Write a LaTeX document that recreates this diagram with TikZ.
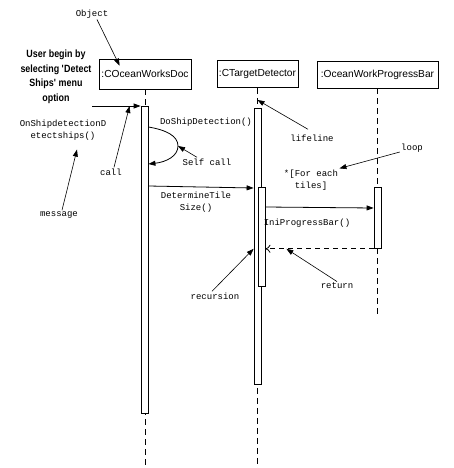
\documentclass[tikz,border=0pt]{standalone}
\usepackage{fontspec}
\setsansfont{Liberation Sans}
\setmonofont{Liberation Mono}
\newfontfamily\usrfont{Liberation Sans}[FakeStretch=0.85]
\usetikzlibrary{arrows.meta,positioning}

\begin{document}
\begin{tikzpicture}[x=1pt,y=-1pt,line width=0.8pt,
		objbox/.style={draw,minimum height=27pt,inner sep=2pt,font=\sffamily\fontsize{10.2}{12}\selectfont},
		actbar/.style={draw,fill=white,minimum width=7pt,inner sep=0pt,anchor=north},
		lbl/.style={font=\ttfamily\fontsize{9}{12}\selectfont,align=center,inner sep=1pt},
		msg/.style={-{Triangle[length=7pt,width=5pt]}},
		ptr/.style={-{Triangle[length=7pt,width=5pt]},line width=0.6pt},
		ret/.style={dash pattern=on 5pt off 4pt,-{To[length=5pt,width=8pt]}},
		lifeline/.style={dash pattern=on 6pt off 4pt}]
	\useasboundingbox (0,0) rectangle (453,468);

	% objects and their lifelines
	\node[objbox,minimum width=92pt,minimum height=30pt] (doc) at (145,74) {:COceanWorksDoc};
	\node[objbox,minimum width=80pt] (det) at (257.5,74) {:CTargetDetector};
	\node[objbox,minimum width=121pt] (bar) at (377.5,74.5) {:OceanWorkProgressBar};
	\coordinate (docend) at (145,468);
	\coordinate (detend) at (257.5,468);
	\coordinate (barend) at (377.5,315);
	\draw[lifeline] (doc.south) -- (docend);
	\draw[lifeline] (det.south) -- (detend);
	\draw[lifeline] (bar.south) -- (barend);

	% activations
	\node[actbar,minimum height=307pt] (a1) at (144.5,106) {};
	\node[actbar,minimum height=276pt] (a2) at (257.5,108) {};
	\node[actbar,minimum height=99pt] (a2b) at (261.5,187) {};
	\node[actbar,minimum height=61pt] (a3) at (377.5,187) {};

	% messages
	\coordinate (usr) at (92,106);
	\coordinate (sc) at (178,146);
	\draw[msg] (usr) -- (a1.north west);
	\draw[msg] ([yshift=-21pt]a1.north east) .. controls +(18,3) and +(0,-10) .. (sc)
		.. controls +(0,10) and +(18,-2) .. ([yshift=-58pt]a1.north east);
	\draw[msg] ([yshift=-80pt]a1.north east) -- ([yshift=-80pt]a2.north west);
	\draw[msg] ([yshift=-20pt]a2b.north east) -- ([yshift=-21pt]a3.north west);
	\draw[ret] (a3.south west) -- (a2b.east |- a3.south west);

	% labels
	\node[lbl] (dsd) at (206,122) {DoShipDetection()};
	\node[lbl] (selflbl) at (207,162) {Self call};
	\node[lbl] (dts) at (196,202) {DetermineTile\\Size()};
	\node[lbl] (ipb) at (307,223) {IniProgressBar()};
	\node[lbl] (each) at (311,180) {*[For each\\tiles]};
	\node[lbl] (looplbl) at (412,148) {loop};
	\node[lbl] (lifelbl) at (312,138) {lifeline};
	\node[lbl] (retlbl) at (337,286) {return};
	\node[lbl] (reclbl) at (215,296) {recursion};
	\node[lbl] (msglbl) at (59,215) {message};
	\node[lbl] (calllbl) at (111,172) {call};
	\node[lbl] (onship) at (63,130) {OnShipdetectionD\\etectships()};
	\node[lbl] (objlbl) at (92,14) {Object};
	\node[font=\usrfont\bfseries\fontsize{10.5}{14.5}\selectfont,align=center] (usrlbl) at (56,77)
		{User begin by\\selecting \textquotesingle Detect\\Ships\textquotesingle{} menu\\option};

	% pointers
	\path (a2b.east |- a3.south) ++(21,0) coordinate (rtip);
	\draw[ptr] ([xshift=5pt]objlbl.south) -- ([xshift=21pt,yshift=-7pt]doc.north west);
	\draw[ptr] ([xshift=-4pt,yshift=4pt]lifelbl.north) -- ([yshift=8pt]a2.north);
	\draw[ptr] ([yshift=-4pt]looplbl.west) -- (each.north east);
	\draw[ptr] ([xshift=-10pt]selflbl.north) -- (sc);
	\draw[ptr] ([xshift=-3pt]reclbl.north) -- (a2.west |- a3.south);
	\draw[ptr] (retlbl.north) -- (rtip);
	\draw[ptr] ([xshift=3pt]msglbl.north) -- ([xshift=14pt,yshift=-8pt]onship.south);
	\draw[ptr] ([xshift=3pt]calllbl.north) -- ([xshift=-11pt]a1.north west);
\end{tikzpicture}
\end{document}
